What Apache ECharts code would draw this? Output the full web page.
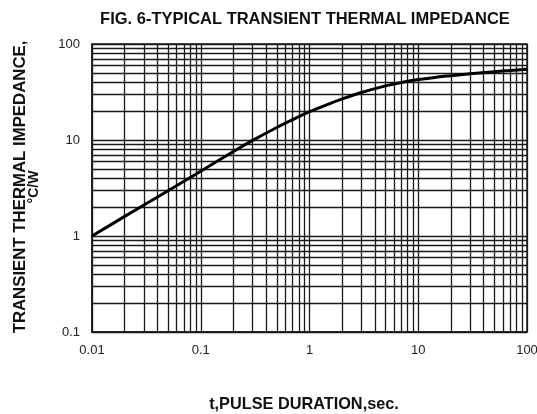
<!DOCTYPE html>
<html>
<head>
<meta charset="utf-8">
<script src="https://cdn.jsdelivr.net/npm/echarts@6/dist/echarts.min.js"></script>
<style>
  html, body { margin: 0; padding: 0; background: #fff; }
  #chart { width: 537px; height: 414px; }
</style>
</head>
<body>
<div id="chart"></div>
<script>
// Pulse duration (s) and transient thermal impedance (°C/W)
const pulseDuration = [0.01, 0.02, 0.03, 0.05, 0.1, 0.2, 0.3, 0.5, 0.7, 1, 1.5, 2, 3, 5, 7, 10, 15, 20, 30, 50, 70, 100];
const impedance     = [1.0, 1.6, 2.1, 2.96, 4.73, 7.6, 9.9, 13.5, 16.3, 19.7, 23.7, 26.8, 31.2, 36.6, 39.8, 42.7, 45.2, 46.8, 48.9, 51.4, 53.0, 54.6];

const titleText = 'FIG. 6-TYPICAL TRANSIENT THERMAL IMPEDANCE';
const xTitle = 't,PULSE DURATION,sec.';
const yTitle1 = 'TRANSIENT THERMAL IMPEDANCE,';
const yTitle2 = '°C/W';

const FONT = '"Liberation Sans", Arial, Helvetica, sans-serif';
const GRID_COLOR = '#1a1a1a';

const fmt = v => String(Number(v.toPrecision(3)));

const chart = echarts.init(document.getElementById('chart'), null, { renderer: 'canvas' });
chart.setOption({
  backgroundColor: '#fff',
  animation: false,
  grid: {
    left: 92, right: 10, top: 44, bottom: 82,
    containLabel: false,
    outerBoundsMode: 'none',
    show: true, borderColor: GRID_COLOR, borderWidth: 1.5, backgroundColor: '#fff'
  },
  xAxis: {
    type: 'log',
    logBase: 10,
    min: 0.01,
    max: 100,
    name: xTitle,
    nameLocation: 'middle',
    nameGap: 65,
    nameTextStyle: { fontFamily: FONT, fontSize: 16.3, fontWeight: 'bold', color: '#111', padding: [0, 11, 0, 0] },
    axisLine: { show: true, lineStyle: { color: GRID_COLOR, width: 1.5 } },
    axisTick: { show: false },
    axisLabel: { fontFamily: FONT, fontSize: 13, color: '#222', margin: 12, formatter: fmt },
    splitLine: { show: true, lineStyle: { color: GRID_COLOR, width: 1.3 } },
    minorTick: { show: false, splitNumber: 9 },
    minorSplitLine: { show: true, lineStyle: { color: GRID_COLOR, width: 1.3 } }
  },
  yAxis: {
    type: 'log',
    logBase: 10,
    min: 0.1,
    max: 100,
    axisLine: { show: true, lineStyle: { color: GRID_COLOR, width: 1.5 } },
    axisTick: { show: false },
    axisLabel: { fontFamily: FONT, fontSize: 13, color: '#222', margin: 12, formatter: fmt },
    splitLine: { show: true, lineStyle: { color: GRID_COLOR, width: 1.3 } },
    minorTick: { show: false, splitNumber: 9 },
    minorSplitLine: { show: true, lineStyle: { color: GRID_COLOR, width: 1.3 } }
  },
  graphic: [
    {
      type: 'text',
      x: 305, y: 19,
      style: {
        text: titleText,
        fontFamily: FONT, fontSize: 16.5, fontWeight: 'bold', fill: '#111',
        align: 'center', verticalAlign: 'middle'
      }
    },
    {
      type: 'text',
      x: 20, y: 187,
      rotation: Math.PI / 2,
      style: {
        text: yTitle1,
        fontFamily: FONT, fontSize: 16.8, fontWeight: 'bold', fill: '#111',
        align: 'center', verticalAlign: 'middle'
      }
    },
    {
      type: 'text',
      x: 34, y: 187,
      rotation: Math.PI / 2,
      style: {
        text: yTitle2,
        fontFamily: FONT, fontSize: 14, fontWeight: 'bold', fill: '#111',
        align: 'center', verticalAlign: 'middle'
      }
    }
  ],
  series: [{
    type: 'line',
    data: pulseDuration.map((t, i) => [t, impedance[i]]),
    smooth: 0.3,
    showSymbol: false,
    lineStyle: { color: '#000', width: 3 },
    z: 5
  }]
});
</script>
</body>
</html>
